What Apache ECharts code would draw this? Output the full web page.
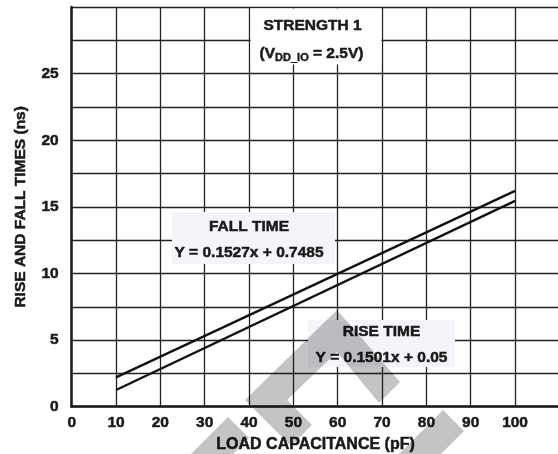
<!DOCTYPE html>
<html>
<head>
<meta charset="utf-8">
<script src="https://cdn.jsdelivr.net/npm/echarts@6/dist/echarts.min.js"></script>
<style>html,body{margin:0;padding:0;background:#fff}#c{width:558px;height:454px}</style>
</head>
<body>
<div id="c"></div>
<script>
// Data
const fallX = [10, 100];
const fallY = [2.2, 16.2];
const riseX = [10, 100];
const riseY = [1.25, 15.45];
const xTickLabels = ['0','10','20','30','40','50','60','70','80','90','100'];
const yTickLabels = ['0','5','10','15','20','25'];

const FONT = '"Liberation Sans", Arial, Helvetica, sans-serif';
const INK = '#1a1a1a';
const chart = echarts.init(document.getElementById('c'), null, {renderer: 'canvas'});

function pairs(xs, ys) { return xs.map((x, i) => [x, ys[i]]); }

const boxText = {fontFamily: FONT, fontWeight: 'bold', fontSize: 15.5, fill: INK, stroke: INK, lineWidth: 0.5};
const wm = {fill: '#c4c4c4', blend: 'multiply'};
const heavy = {textBorderColor: INK, textBorderWidth: 0.5};

chart.setOption({
  animation: false,
  backgroundColor: '#fff',
  grid: {left: 71.7, top: 7, width: 487.7, height: 399.7, containLabel: false, outerBoundsMode: 'none'},
  xAxis: {
    type: 'value', min: 0, max: 110, interval: 10,
    name: 'LOAD CAPACITANCE (pF)', nameLocation: 'middle', nameGap: 29,
    nameTextStyle: Object.assign({fontFamily: FONT, fontWeight: 'bold', fontSize: 16, color: INK}, heavy),
    axisLine: {show: true, onZero: false, lineStyle: {color: INK, width: 2.5}},
    axisTick: {show: false},
    axisLabel: Object.assign({
      fontFamily: FONT, fontWeight: 'bold', fontSize: 15.5, color: INK, margin: 8,
      formatter: v => { const i = xTickLabels.indexOf(String(v)); return i >= 0 ? xTickLabels[i] : ''; }
    }, heavy),
    splitLine: {show: true, lineStyle: {color: '#222', width: 1.3}}
  },
  yAxis: {
    type: 'value', min: 0, max: 30, interval: 2.5,
    name: 'RISE AND FALL TIMES (ns)', nameLocation: 'middle', nameGap: 43,
    nameTextStyle: Object.assign({fontFamily: FONT, fontWeight: 'bold', fontSize: 15.5, color: INK}, heavy),
    axisLine: {show: true, onZero: false, lineStyle: {color: INK, width: 2.5}},
    axisTick: {show: false},
    axisLabel: Object.assign({
      fontFamily: FONT, fontWeight: 'bold', fontSize: 15.5, color: INK, margin: 13,
      formatter: v => { const i = yTickLabels.indexOf(String(v)); return i >= 0 ? yTickLabels[i] : ''; }
    }, heavy),
    splitLine: {show: true, lineStyle: {color: '#222', width: 1.3}}
  },
  series: [
    {type: 'line', name: 'FALL TIME', data: pairs(fallX, fallY), symbol: 'none',
     lineStyle: {color: '#111', width: 2.3}, z: 3},
    {type: 'line', name: 'RISE TIME', data: pairs(riseX, riseY), symbol: 'none',
     lineStyle: {color: '#111', width: 2.3}, z: 3}
  ],
  graphic: [
    {type: 'rect', shape: {x: 250.5, y: 8.5, width: 131, height: 56}, style: {fill: '#fff'}, z: 10},
    {type: 'text', x: 312.5, y: 26, style: Object.assign({text: 'STRENGTH 1', align: 'center', verticalAlign: 'middle'}, boxText), z: 11},
    {type: 'text', x: 311.5, y: 54, style: {
      text: '{a|(V}{s|DD_IO}{a| = 2.5V)}', align: 'center', verticalAlign: 'middle',
      rich: {
        a: {fontFamily: FONT, fontWeight: 'bold', fontSize: 15.5, fill: INK, stroke: INK, lineWidth: 0.5, verticalAlign: 'middle'},
        s: {fontFamily: FONT, fontWeight: 'bold', fontSize: 11, fill: INK, stroke: INK, lineWidth: 0.4, padding: [7, 0, 0, 0], verticalAlign: 'middle'}
      }}, z: 11},
    {type: 'rect', shape: {x: 172, y: 212, width: 163, height: 52}, style: {fill: '#f3f5fa'}, z: 10},
    {type: 'text', x: 249, y: 227, style: Object.assign({text: 'FALL TIME', align: 'center', verticalAlign: 'middle'}, boxText), z: 11},
    {type: 'text', x: 249, y: 253, style: Object.assign({text: 'Y = 0.1527x + 0.7485', align: 'center', verticalAlign: 'middle'}, boxText), z: 11},
    {type: 'rect', shape: {x: 308, y: 320, width: 147, height: 47}, style: {fill: '#f3f5fa'}, z: 10},
    {type: 'text', x: 381.5, y: 332, style: Object.assign({text: 'RISE TIME', align: 'center', verticalAlign: 'middle'}, boxText), z: 11},
    {type: 'text', x: 381.5, y: 358, style: Object.assign({text: 'Y = 0.1501x + 0.05', align: 'center', verticalAlign: 'middle'}, boxText), z: 11},
    // watermark overlay (decorative)
    {type: 'polygon', shape: {points: [[245,400],[337,310],[400,382],[379,403],[337,352],[287,400],[312,425],[291,446]]}, style: wm, z: 20},
    {type: 'polygon', shape: {points: [[228,417],[249,438],[209,478],[188,457]]}, style: wm, z: 20},
    {type: 'polygon', shape: {points: [[443,410],[464,431],[414,481],[393,460]]}, style: wm, z: 20}
  ]
});
</script>
</body>
</html>
